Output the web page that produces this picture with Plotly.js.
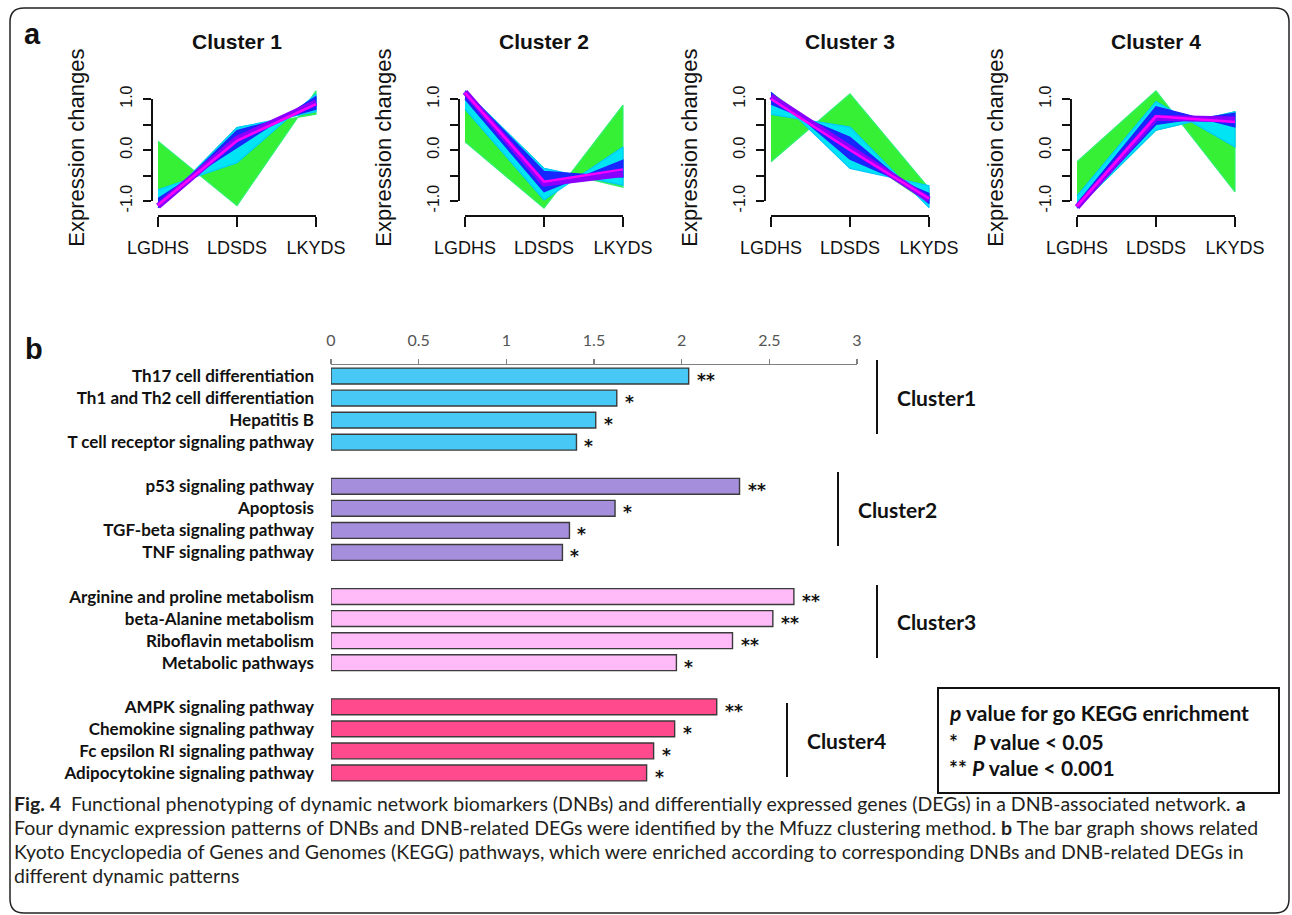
<!DOCTYPE html>
<html><head><meta charset="utf-8">
<script src="https://cdn.plot.ly/plotly-3.0.1.min.js"></script>
<style>html,body{margin:0;padding:0;background:#fff}#chart{width:1292px;height:915px}</style>
</head><body><div id="chart"></div>
<script>
// ---------------- Panel a: Mfuzz expression clusters ----------------
const stages = ['LGDHS', 'LDSDS', 'LKYDS'];
const clusterTitles = ['Cluster 1', 'Cluster 2', 'Cluster 3', 'Cluster 4'];
const yTickVals = [-1, -0.5, 0, 0.5, 1];
const yTickText = ['-1.0', '', '0.0', '', '1.0'];

// each band = two boundary gene profiles (values at the three stages)
const c1Green = [[0.17, -1.09, 1.16], [-1.13, 0.44, 0.70]];
const c1Cyan  = [[-0.78, -0.25, 1.10], [-1.13, 0.44, 0.75]];
const c1Blue  = [[-0.95, 0.05, 1.05], [-1.13, 0.38, 0.80]];
const c1Core  = [-1.10, 0.22, 0.93];
const c1Peak  = [-1.08, 0.18, 0.90];

const c2Green = [[0.16, -1.14, 0.88], [1.16, -0.36, -0.73]];
const c2Cyan  = [[0.80, -0.98, 0.06], [1.16, -0.36, -0.69]];
const c2Blue  = [[1.00, -0.82, -0.20], [1.16, -0.42, -0.53]];
const c2Core  = [1.14, -0.66, -0.47];
const c2Peak  = [1.12, -0.62, -0.38];

const c3Green = [[-0.23, 1.10, -0.75], [1.13, 0.00, -1.05]];
const c3Cyan  = [[0.70, 0.45, -1.13], [1.13, -0.36, -0.70]];
const c3Blue  = [[0.90, 0.25, -1.05], [1.13, -0.18, -0.85]];
const c3Core  = [1.05, 0.05, -0.97];
const c3Peak  = [1.00, 0.00, -0.95];

const c4Green = [[-0.23, 1.16, -0.82], [-1.14, 0.39, 0.75]];
const c4Cyan  = [[-0.90, 0.95, 0.06], [-1.14, 0.39, 0.75]];
const c4Blue  = [[-1.05, 0.85, 0.45], [-1.14, 0.50, 0.72]];
const c4Core  = [-1.12, 0.63, 0.60];
const c4Peak  = [-1.10, 0.66, 0.55];

// ---------------- Panel b: KEGG enrichment ----------------
const cluster1Pathways = ['Th17 cell differentiation', 'Th1 and Th2 cell differentiation', 'Hepatitis B', 'T cell receptor signaling pathway'];
const cluster1Scores = [2.04, 1.63, 1.51, 1.40];
const cluster1Stars = ['**', '*', '*', '*'];
const cluster2Pathways = ['p53 signaling pathway', 'Apoptosis', 'TGF-beta signaling pathway', 'TNF signaling pathway'];
const cluster2Scores = [2.33, 1.62, 1.36, 1.32];
const cluster2Stars = ['**', '*', '*', '*'];
const cluster3Pathways = ['Arginine and proline metabolism', 'beta-Alanine metabolism', 'Riboflavin metabolism', 'Metabolic pathways'];
const cluster3Scores = [2.64, 2.52, 2.29, 1.97];
const cluster3Stars = ['**', '**', '**', '*'];
const cluster4Pathways = ['AMPK signaling pathway', 'Chemokine signaling pathway', 'Fc epsilon RI signaling pathway', 'Adipocytokine signaling pathway'];
const cluster4Scores = [2.20, 1.96, 1.84, 1.80];
const cluster4Stars = ['**', '*', '*', '*'];
const barClusterNames = ['Cluster1', 'Cluster2', 'Cluster3', 'Cluster4'];
const barAxisTicks = [0, 0.5, 1, 1.5, 2, 2.5, 3];

const captionLines = [
  '<b>Fig. 4</b>\u00a0\u00a0Functional phenotyping of dynamic network biomarkers (DNBs) and differentially expressed genes (DEGs) in a DNB-associated network. <b>a</b>',
  'Four dynamic expression patterns of DNBs and DNB-related DEGs were identified by the Mfuzz clustering method. <b>b</b> The bar graph shows related',
  'Kyoto Encyclopedia of Genes and Genomes (KEGG) pathways, which were enriched according to corresponding DNBs and DNB-related DEGs in',
  'different dynamic patterns'
];

// ---------------- build ----------------
const W = 1292, H = 915;
const fx = p => p / W;
const fy = p => 1 - p / H;

const clusters = [
  [c1Green, c1Cyan, c1Blue, c1Core, c1Peak],
  [c2Green, c2Cyan, c2Blue, c2Core, c2Peak],
  [c3Green, c3Cyan, c3Blue, c3Core, c3Peak],
  [c4Green, c4Cyan, c4Blue, c4Core, c4Peak]
];
const bandColors = ['#36f036', '#00e4f4', '#1428ff'];
const bandEdges = ['#30f070', '#00c8ff', '#2020ff'];
const panelAxisX = [151.7, 458.7, 764.7, 1070.7];
const tickSpan = 158, pad = 6.3;

const axName = (p, i) => i === 1 ? p : p + i;
const traces = [];
const layout = {
  width: W, height: H,
  margin: {l: 0, r: 0, t: 0, b: 0},
  paper_bgcolor: '#ffffff', plot_bgcolor: 'rgba(0,0,0,0)',
  showlegend: false, barmode: 'overlay',
  font: {family: 'Liberation Sans, Arial, sans-serif', color: '#000'},
  annotations: [], shapes: []
};
const revStages = stages.slice().reverse();

clusters.forEach((cl, k) => {
  const xa = axName('x', k + 1), ya = axName('y', k + 1);
  const dx = 'x' + (k + 5), dy = 'y' + (k + 5);
  for (let b = 0; b < 3; b++) {
    traces.push({type: 'scatter', x: stages.concat(revStages), y: cl[b][0].concat(cl[b][1].slice().reverse()),
      xaxis: xa, yaxis: ya, mode: 'lines', line: {width: 1.2, color: bandEdges[b]},
      fill: 'toself', fillcolor: bandColors[b], hoverinfo: 'skip'});
  }
  traces.push({type: 'scatter', x: stages, y: cl[3], xaxis: xa, yaxis: ya, mode: 'lines',
    line: {width: 6, color: '#8a00ff'}, hoverinfo: 'skip'});
  traces.push({type: 'scatter', x: stages, y: cl[4], xaxis: xa, yaxis: ya, mode: 'lines',
    line: {width: 2.5, color: '#ff00ff'}, hoverinfo: 'skip'});
  // invisible carrier for the R-style axes
  traces.push({type: 'scatter', x: stages, y: [null, null, null], xaxis: dx, yaxis: dy, mode: 'lines', hoverinfo: 'skip'});

  const ax = panelAxisX[k], L = ax + pad;
  const hidden = {showline: false, showticklabels: false, ticks: '', showgrid: false, zeroline: false, fixedrange: true};
  layout['xaxis' + (k === 0 ? '' : k + 1)] = Object.assign({}, hidden, {
    type: 'category', categoryorder: 'array', categoryarray: stages,
    domain: [fx(ax), fx(L + tickSpan + pad)], range: [-0.08, 2.08], anchor: ya});
  layout['yaxis' + (k === 0 ? '' : k + 1)] = Object.assign({}, hidden, {
    domain: [fy(215.8), fy(84.2)], range: [-1.29, 1.29], anchor: xa});
  layout['xaxis' + (k + 5)] = {
    type: 'category', categoryorder: 'array', categoryarray: stages,
    domain: [fx(L), fx(L + tickSpan)], range: [0, 2], anchor: 'free', position: fy(215.5),
    showline: true, linecolor: '#111', linewidth: 2, ticks: 'outside', ticklen: 10, tickwidth: 2, tickcolor: '#111',
    tickfont: {size: 18, color: '#111'}, ticklabelstandoff: 6, showgrid: false, zeroline: false, fixedrange: true};
  layout['yaxis' + (k + 5)] = {
    domain: [fy(201), fy(99)], range: [-1, 1], anchor: 'free', position: fx(ax),
    showline: true, linecolor: '#111', linewidth: 2, ticks: 'outside', ticklen: 8, tickwidth: 2, tickcolor: '#111',
    tickvals: yTickVals, ticktext: yTickText, tickangle: -90, tickfont: {size: 16, color: '#111'},
    ticklabelstandoff: 4, showgrid: false, zeroline: false, fixedrange: true};

  layout.annotations.push({xref: 'paper', yref: 'paper', x: fx(L + tickSpan / 2), y: fy(42), text: clusterTitles[k],
    showarrow: false, xanchor: 'center', yanchor: 'middle', font: {size: 21, weight: 'bold', color: '#111'}});
  layout.annotations.push({xref: 'paper', yref: 'paper', x: fx(ax - 76), y: fy(148), text: 'Expression changes',
    textangle: -90, showarrow: false, xanchor: 'center', yanchor: 'middle', font: {size: 22, color: '#111'}});
});

// bar chart
const groups = [
  [cluster1Pathways, cluster1Scores, cluster1Stars, '#47c8f5'],
  [cluster2Pathways, cluster2Scores, cluster2Stars, '#a58edb'],
  [cluster3Pathways, cluster3Scores, cluster3Stars, '#ffbaf8'],
  [cluster4Pathways, cluster4Scores, cluster4Stars, '#ff4a8e']
];
const spacers = [' ', '  ', '   '];
const categoryOrder = [];
groups.forEach((g, i) => { categoryOrder.push(...g[0]); if (i < 3) categoryOrder.push(spacers[i]); });

groups.forEach(g => {
  traces.push({type: 'bar', orientation: 'h', x: g[1], y: g[0], xaxis: 'x9', yaxis: 'y9', width: 0.72,
    marker: {color: g[3], line: {color: '#3a3a3a', width: 1.4}}, hoverinfo: 'skip'});
  g[0].forEach((name, i) => {
    layout.annotations.push({xref: 'x9', yref: 'y9', x: g[1][i], y: name, text: g[2][i], showarrow: false,
      xanchor: 'left', yanchor: 'middle', xshift: 6, yshift: -4,
      font: {family: 'DejaVu Sans, sans-serif', size: 17, weight: 'bold', color: '#111'}});
  });
});

layout.xaxis9 = {domain: [fx(331), fx(857)], range: [0, 3], side: 'top', anchor: 'y9',
  tickvals: barAxisTicks, ticktext: barAxisTicks.map(String),
  showline: true, linecolor: '#808080', linewidth: 1.5, ticks: 'outside', ticklen: 5, tickwidth: 1.5, tickcolor: '#808080',
  tickfont: {family: 'Lato, sans-serif', size: 16, color: '#555'}, ticklabelstandoff: 6,
  showgrid: false, zeroline: false, fixedrange: true};
layout.yaxis9 = {domain: [fy(784), fy(365)], type: 'category', categoryorder: 'array', categoryarray: categoryOrder,
  range: [categoryOrder.length - 0.5, -0.5], anchor: 'x9', showline: false, ticks: '',
  tickfont: {family: 'Lato, sans-serif', size: 17, weight: 'bold', color: '#111'}, ticklabelstandoff: 16,
  showgrid: false, zeroline: false, fixedrange: true};

// cluster brackets (layout positions in px)
const bracketX = [877, 838, 877, 787];
const bracketY = [[360, 434], [472, 546], [585, 658], [703, 777]];
barClusterNames.forEach((nm, i) => {
  layout.shapes.push({type: 'line', xref: 'paper', yref: 'paper', x0: fx(bracketX[i]), x1: fx(bracketX[i]),
    y0: fy(bracketY[i][0]), y1: fy(bracketY[i][1]), line: {color: '#111', width: 2}});
  layout.annotations.push({xref: 'paper', yref: 'paper', x: fx(bracketX[i] + 18), y: fy((bracketY[i][0] + bracketY[i][1]) / 2),
    text: nm, showarrow: false, xanchor: 'left', yanchor: 'middle',
    font: {family: 'Lato, sans-serif', size: 21, weight: 'bold', color: '#111'}});
});

// significance legend box
layout.shapes.push({type: 'rect', xref: 'paper', yref: 'paper', x0: fx(938), x1: fx(1279), y0: fy(793), y1: fy(688),
  line: {color: '#111', width: 2}});
const legendLines = ['<i>p</i> value for go KEGG enrichment', '*\u00a0\u00a0\u00a0<i>P</i> value &lt; 0.05', '** <i>P</i> value &lt; 0.001'];
const legendY = [712, 741, 767];
legendLines.forEach((t, i) => layout.annotations.push({xref: 'paper', yref: 'paper', x: fx(947), y: fy(legendY[i]), text: t,
  showarrow: false, xanchor: 'left', yanchor: 'middle', align: 'left',
  font: {family: 'Lato, sans-serif', size: 21, weight: 'bold', color: '#111'}}));

// panel letters
layout.annotations.push({xref: 'paper', yref: 'paper', x: fx(22), y: fy(34), text: 'a', showarrow: false,
  xanchor: 'left', yanchor: 'middle', font: {size: 29, weight: 'bold', color: '#111'}});
layout.annotations.push({xref: 'paper', yref: 'paper', x: fx(23), y: fy(349), text: 'b', showarrow: false,
  xanchor: 'left', yanchor: 'middle', font: {size: 29, weight: 'bold', color: '#111'}});

// caption
const captionY = [803, 827, 851, 875];
captionLines.forEach((t, i) => layout.annotations.push({xref: 'paper', yref: 'paper', x: fx(12), y: fy(captionY[i]), text: t,
  showarrow: false, xanchor: 'left', yanchor: 'middle', align: 'left',
  font: {family: 'Lato, sans-serif', size: 19.5, color: '#231f20'}}));

// rounded frame
const fr = {l: 10, r: 1289, t: 8, b: 913, rad: 14};
const P = (x, y) => fx(x) + ',' + fy(y);
const framePath = 'M' + P(fr.l + fr.rad, fr.t) + ' L' + P(fr.r - fr.rad, fr.t) + ' Q' + P(fr.r, fr.t) + ' ' + P(fr.r, fr.t + fr.rad) +
  ' L' + P(fr.r, fr.b - fr.rad) + ' Q' + P(fr.r, fr.b) + ' ' + P(fr.r - fr.rad, fr.b) +
  ' L' + P(fr.l + fr.rad, fr.b) + ' Q' + P(fr.l, fr.b) + ' ' + P(fr.l, fr.b - fr.rad) +
  ' L' + P(fr.l, fr.t + fr.rad) + ' Q' + P(fr.l, fr.t) + ' ' + P(fr.l + fr.rad, fr.t) + ' Z';
layout.shapes.push({type: 'path', xref: 'paper', yref: 'paper', path: framePath, line: {color: '#222', width: 1.5}});

Plotly.newPlot('chart', traces, layout, {staticPlot: true, displayModeBar: false});
</script></body></html>
